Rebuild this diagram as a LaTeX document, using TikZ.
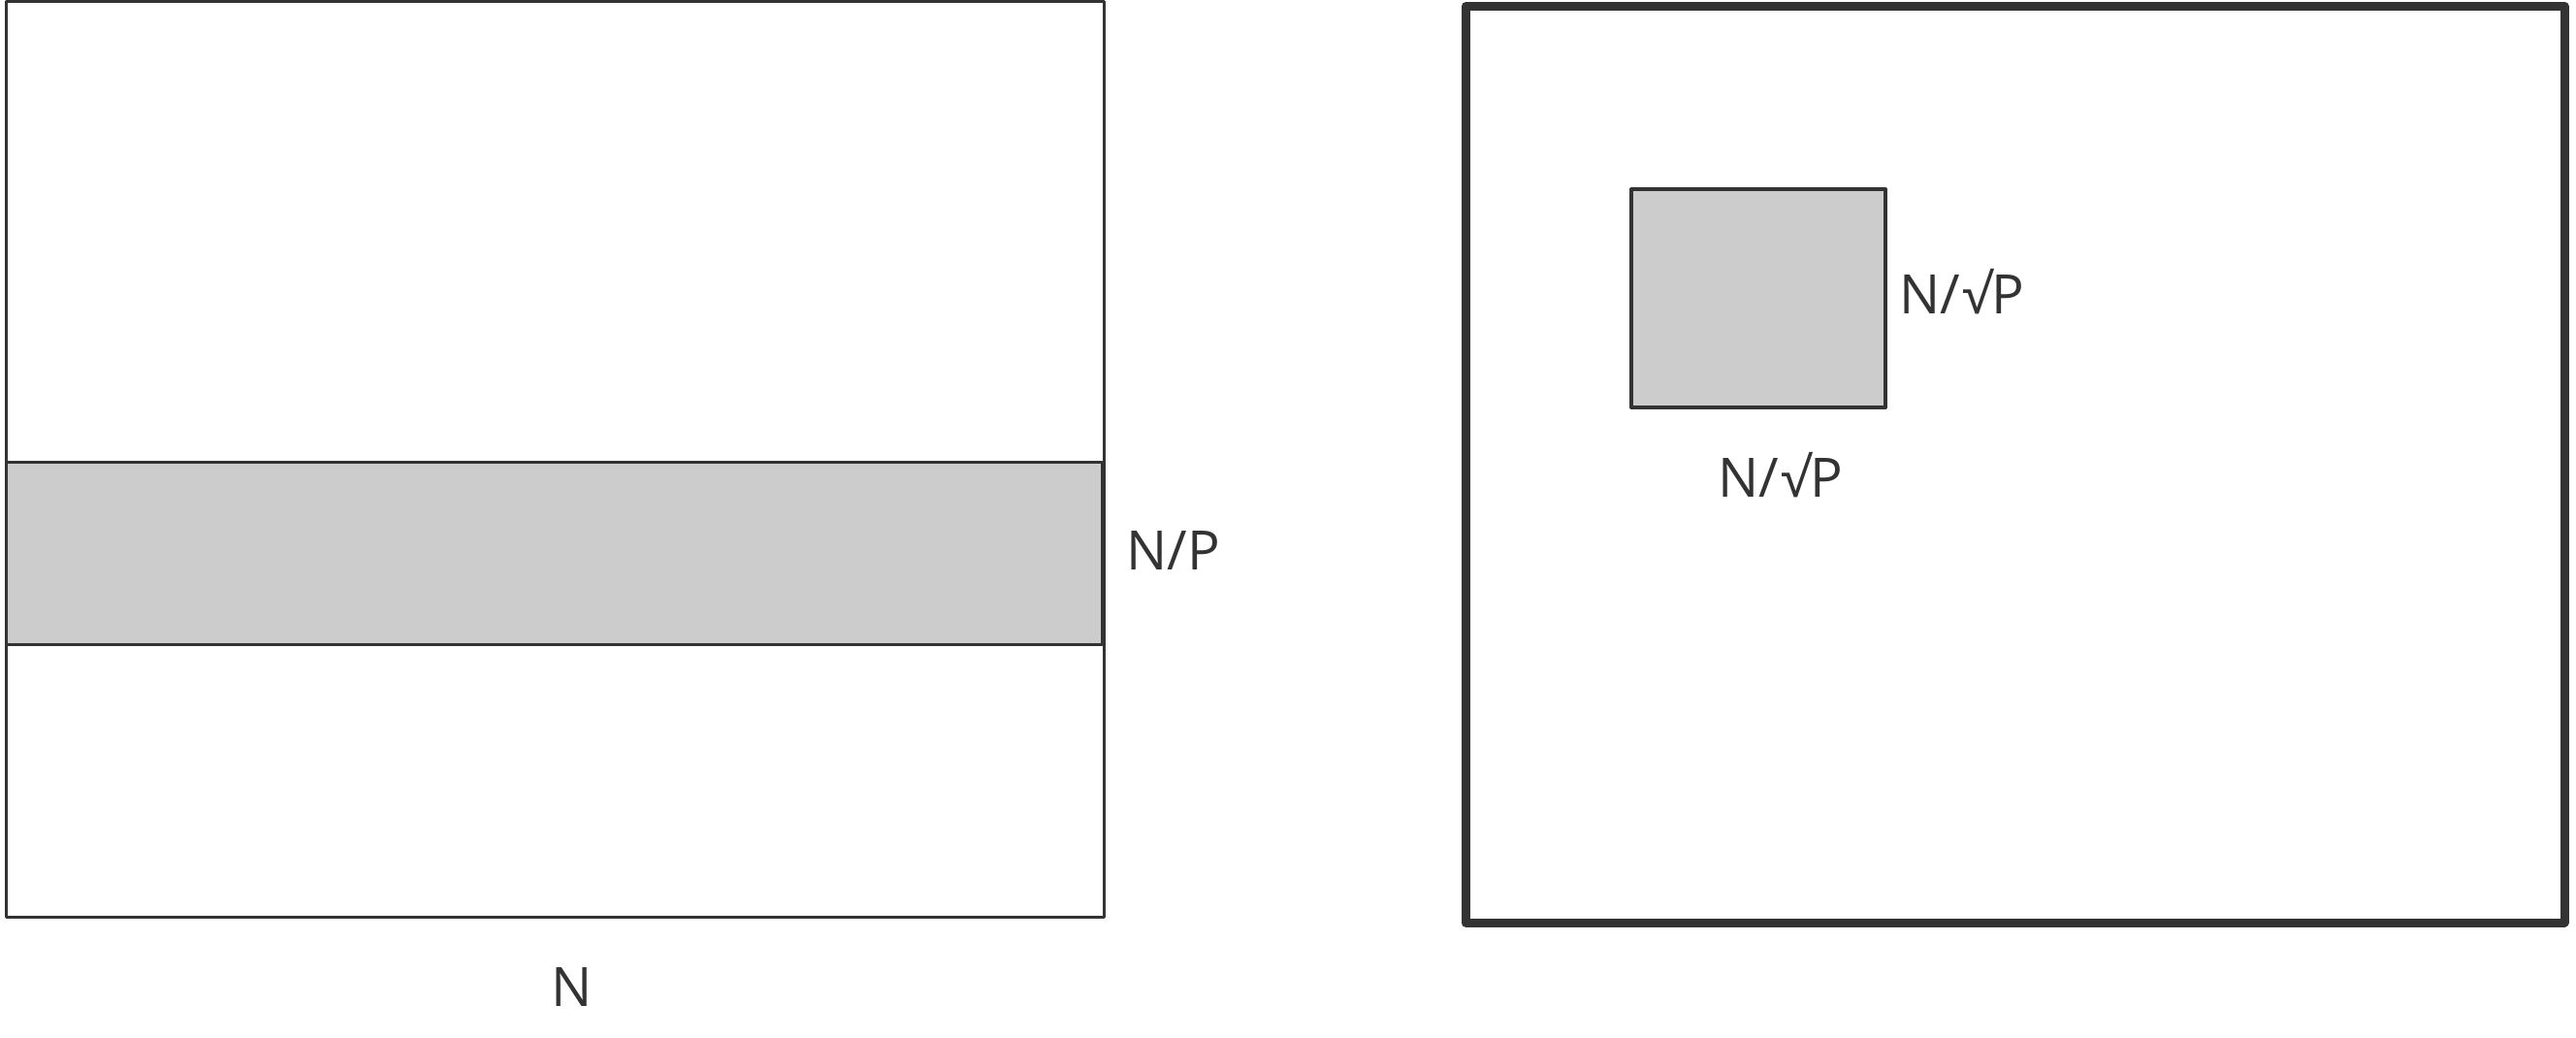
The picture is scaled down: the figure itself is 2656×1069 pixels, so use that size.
\documentclass[tikz,border=0pt]{standalone}
\usepackage{fontspec}
\setmainfont{Open Sans}
\newfontfamily\symfont{DejaVu Sans}
\definecolor{ink}{HTML}{333333}
\definecolor{shade}{HTML}{CCCCCC}
\begin{document}
\begin{tikzpicture}[x=1pt,y=-1pt,
  box/.style={draw=ink, rectangle, inner sep=0pt, outer sep=0pt, line join=round},
  lbl/.style={text=ink, inner sep=0pt, font=\fontsize{56}{60}\selectfont}]
\useasboundingbox (0,0) rectangle (2656,1069);
% left matrix
\node[box, line width=3pt, minimum width=1132pt, minimum height=943.5pt] (leftmat) at (572.5,473.25) {};
\node[box, line width=3pt, fill=shade, minimum width=1129.5pt, minimum height=188pt] (strip) at (571.25,570) {};
\node[lbl, anchor=base] (np) at (1210,587) {N/P};
\node[lbl, anchor=base] (n) at (589.5,1037) {N};
% right matrix
\node[box, line width=9pt, minimum width=1133pt, minimum height=944.5pt] (rightmat) at (2077.5,478.75) {};
\node[box, line width=4pt, fill=shade, minimum width=262pt, minimum height=225pt] (block) at (1813,307.5) {};
\node[lbl, anchor=base] (nsp1) at (2023,323) {N/\hspace{2pt}√P};
\node[lbl, anchor=base] (nsp2) at (1836,512) {N/\hspace{2pt}√P};
\end{tikzpicture}
\end{document}
